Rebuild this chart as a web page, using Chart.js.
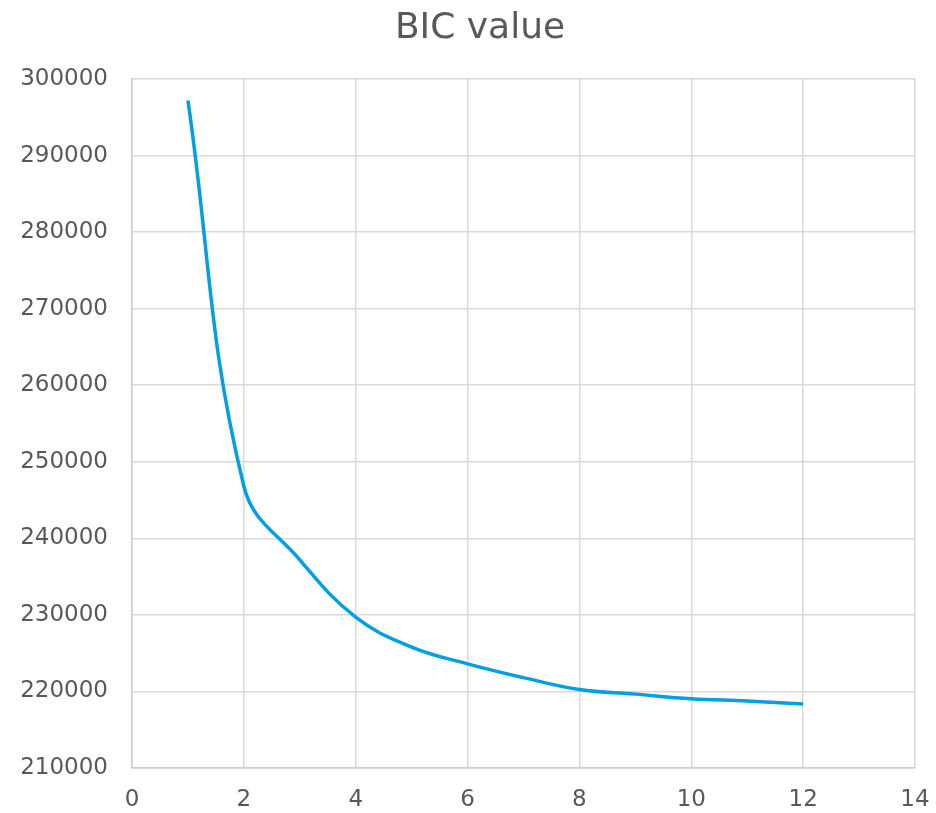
<!DOCTYPE html>
<html>
<head>
<meta charset="utf-8">
<script src="https://cdn.jsdelivr.net/npm/chart.js@4"></script>
<style>
  html, body { margin: 0; padding: 0; background: #ffffff; }
  #wrap { width: 936px; height: 813px; }
</style>
</head>
<body>
<div id="wrap"><canvas id="c" width="936" height="813"></canvas></div>
<script>
const chartTitle = "BIC value";
const clusterCounts = [1, 2, 3, 4, 5, 6, 7, 8, 9, 10, 11, 12];
const bicValues = [297200, 246800, 237200, 229700, 225800, 223600, 221800, 220250, 219650, 219050, 218750, 218350];
const xMin = 0, xMax = 14, xStep = 2;
const yMin = 210000, yMax = 300000, yStep = 10000;

const points = clusterCounts.map((x, i) => ({ x: x, y: bicValues[i] }));
const fontFamily = "'DejaVu Sans', Verdana, sans-serif";
const textColor = "#595959";
const gridColor = "#d9d9d9";

const titlePlugin = {
  id: "offsetTitle",
  afterDraw(chart) {
    const ctx = chart.ctx;
    ctx.save();
    ctx.font = "36px " + fontFamily;
    ctx.fillStyle = textColor;
    ctx.textAlign = "center";
    ctx.textBaseline = "alphabetic";
    ctx.fillText(chartTitle, 480, 38);
    ctx.restore();
  }
};

new Chart(document.getElementById("c"), {
  type: "line",
  data: {
    datasets: [{
      label: chartTitle,
      data: points,
      borderColor: "#009fe6",
      backgroundColor: "#009fe6",
      borderWidth: 3.5,
      pointRadius: 0,
      tension: 0.4,
      fill: false
    }]
  },
  options: {
    responsive: false,
    animation: false,
    devicePixelRatio: 1,
    layout: { padding: { left: 0, right: 21, top: 79, bottom: 0 } },
    plugins: {
      legend: { display: false },
      tooltip: { enabled: false },
      title: { display: false }
    },
    scales: {
      x: {
        type: "linear",
        min: xMin, max: xMax,
        ticks: { stepSize: xStep, color: textColor, font: { family: fontFamily, size: 23 }, padding: 18, maxRotation: 0 },
        grid: { color: gridColor, lineWidth: 1.5, drawTicks: false },
        border: { color: "#cccccc", width: 1.5 },
        afterFit: (s) => { s.height = 45; s.paddingLeft = 0; s.paddingRight = 0; }
      },
      y: {
        type: "linear",
        min: yMin, max: yMax,
        ticks: { stepSize: yStep, color: textColor, font: { family: fontFamily, size: 23 }, padding: 24,
                 callback: (v) => String(v) },
        grid: { color: gridColor, lineWidth: 1.5, drawTicks: false },
        border: { color: "#cccccc", width: 1.5 },
        afterFit: (s) => { s.width = 132; s.paddingTop = 0; s.paddingBottom = 0; }
      }
    }
  },
  plugins: [titlePlugin]
});
</script>
</body>
</html>
